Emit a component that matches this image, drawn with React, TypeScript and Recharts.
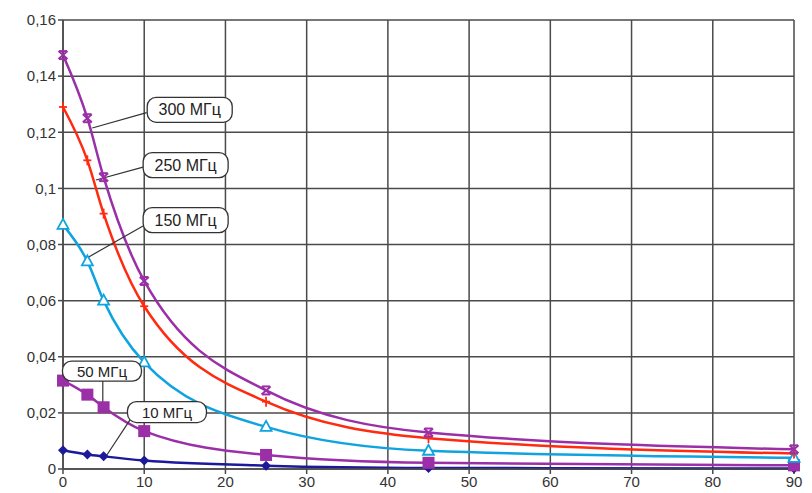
import { LineChart, Line, XAxis, YAxis, CartesianGrid, ReferenceLine, ReferenceDot } from 'recharts';

const distances = [0, 3, 5, 10, 25, 45, 90];
const mhz300 = [0.1475, 0.125, 0.104, 0.067, 0.028, 0.013, 0.007];
const mhz250 = [0.129, 0.110, 0.091, 0.058, 0.024, 0.011, 0.0055];
const mhz150 = [0.087, 0.074, 0.060, 0.038, 0.015, 0.0065, 0.004];
const mhz50 = [0.0315, 0.0265, 0.022, 0.0135, 0.005, 0.0022, 0.0013];
const mhz10 = [0.0067, 0.0052, 0.0045, 0.003, 0.0012, 0.0004, 0.0002];

const xTicks = [0, 10, 20, 30, 40, 50, 60, 70, 80, 90];
const yTicks = [0, 0.02, 0.04, 0.06, 0.08, 0.1, 0.12, 0.14, 0.16];

// label boxes: [text, x, y, width, height], leader: [x1, y1, x2, y2]
const labels = [
  { text: '300 МГц', x: 15.6, y: 0.128, w: 85, h: 25, lead: [3.6, 0.1215, 10.3, 0.127] },
  { text: '250 МГц', x: 15.1, y: 0.1083, w: 85, h: 25, lead: [4.06, 0.103, 9.85, 0.1076] },
  { text: '150 МГц', x: 15.1, y: 0.0887, w: 85, h: 25, lead: [2.95, 0.0752, 9.85, 0.0866] },
  { text: '50 МГц', x: 4.8, y: 0.0349, w: 79, h: 20, lead: [4.9, 0.0317, 4.9, 0.0232] },
  { text: '10 МГц', x: 12.8, y: 0.0203, w: 79, h: 21, lead: [5.4, 0.005, 8.25, 0.0175] },
];

const data = distances.map((d, i) => ({
  d,
  s300: mhz300[i],
  s250: mhz250[i],
  s150: mhz150[i],
  s50: mhz50[i],
  s10: mhz10[i],
}));

const fmt = (v: number) => String(v).replace('.', ',');
const font = 'Liberation Sans, Arial, sans-serif';

const Star = (props: any) => {
  const { cx, cy } = props;
  const c = '#9B2FA8';
  return (
    <g stroke={c} strokeWidth={2}>
      <line x1={cx - 4.5} y1={cy - 4} x2={cx + 4.5} y2={cy + 4} />
      <line x1={cx - 4.5} y1={cy + 4} x2={cx + 4.5} y2={cy - 4} />
      <line x1={cx - 4} y1={cy - 4} x2={cx + 4} y2={cy - 4} />
      <line x1={cx - 4} y1={cy + 4} x2={cx + 4} y2={cy + 4} />
    </g>
  );
};

const Plus = (props: any) => {
  const { cx, cy } = props;
  return (
    <g stroke="#FF2A10" strokeWidth={1.8}>
      <line x1={cx} y1={cy - 5} x2={cx} y2={cy + 5} />
      <line x1={cx - 4} y1={cy} x2={cx + 4} y2={cy} />
    </g>
  );
};

const Tri = (props: any) => {
  const { cx, cy } = props;
  return <polygon points={`${cx},${cy - 6} ${cx - 5.5},${cy + 4} ${cx + 5.5},${cy + 4}`} fill="#fff" stroke="#0FA3E0" strokeWidth={1.8} />;
};

const Sq = (props: any) => {
  const { cx, cy } = props;
  return <rect x={cx - 6} y={cy - 6} width={12} height={12} fill="#9B2FA8" />;
};

const Dia = (props: any) => {
  const { cx, cy } = props;
  return <polygon points={`${cx},${cy - 5} ${cx + 5},${cy} ${cx},${cy + 5} ${cx - 5},${cy}`} fill="#1C1A9A" />;
};

const boxShape = (text: string, w: number, h: number) => (props: any) => {
  const { cx, cy } = props;
  return (
    <g>
      <rect x={cx - w / 2} y={cy - h / 2} width={w} height={h} rx={9} ry={9} fill="#fff" stroke="#333" strokeWidth={1.3} />
      <text x={cx} y={cy + 5.5} textAnchor="middle" fontSize={h > 22 ? 16 : 15} fill="#222" fontFamily={font}>
        {text}
      </text>
    </g>
  );
};

const App = () => {
  return (
    <div style={{ position: 'absolute', left: 0, top: 0, background: '#fff' }}>
      <LineChart width={812} height={493} data={data} margin={{ top: 20, right: 18, bottom: 0, left: 8 }}>
        <CartesianGrid stroke="#4a4a4a" strokeWidth={1.5} />
        <XAxis
          dataKey="d"
          type="number"
          domain={[0, 90]}
          ticks={xTicks}
          height={24}
          stroke="#4a4a4a"
          strokeWidth={1.5}
          tickSize={5}
          tick={{ fill: '#333', fontSize: 15, fontFamily: font }}
        />
        <YAxis
          type="number"
          domain={[0, 0.16]}
          ticks={yTicks}
          width={55}
          stroke="#4a4a4a"
          strokeWidth={1.5}
          tickSize={5}
          tickFormatter={fmt}
          tick={{ fill: '#333', fontSize: 15, fontFamily: font }}
        />
        <Line type="monotone" dataKey="s10" stroke="#1C1A9A" strokeWidth={2.5} dot={<Dia />} isAnimationActive={false} />
        <Line type="monotone" dataKey="s50" stroke="#9B2FA8" strokeWidth={2.5} dot={<Sq />} isAnimationActive={false} />
        <Line type="monotone" dataKey="s150" stroke="#0FA3E0" strokeWidth={2.5} dot={<Tri />} isAnimationActive={false} />
        <Line type="monotone" dataKey="s250" stroke="#FF2A10" strokeWidth={2.5} dot={<Plus />} isAnimationActive={false} />
        <Line type="monotone" dataKey="s300" stroke="#9B2FA8" strokeWidth={2.5} dot={<Star />} isAnimationActive={false} />
        {labels.map((l) => (
          <ReferenceLine
            key={'l' + l.text}
            segment={[{ x: l.lead[0], y: l.lead[1] }, { x: l.lead[2], y: l.lead[3] }]}
            stroke="#333"
            strokeWidth={1.2}
          />
        ))}
        {labels.map((l) => (
          <ReferenceDot key={'b' + l.text} x={l.x} y={l.y} shape={boxShape(l.text, l.w, l.h)} />
        ))}
      </LineChart>
    </div>
  );
};

export default App;
